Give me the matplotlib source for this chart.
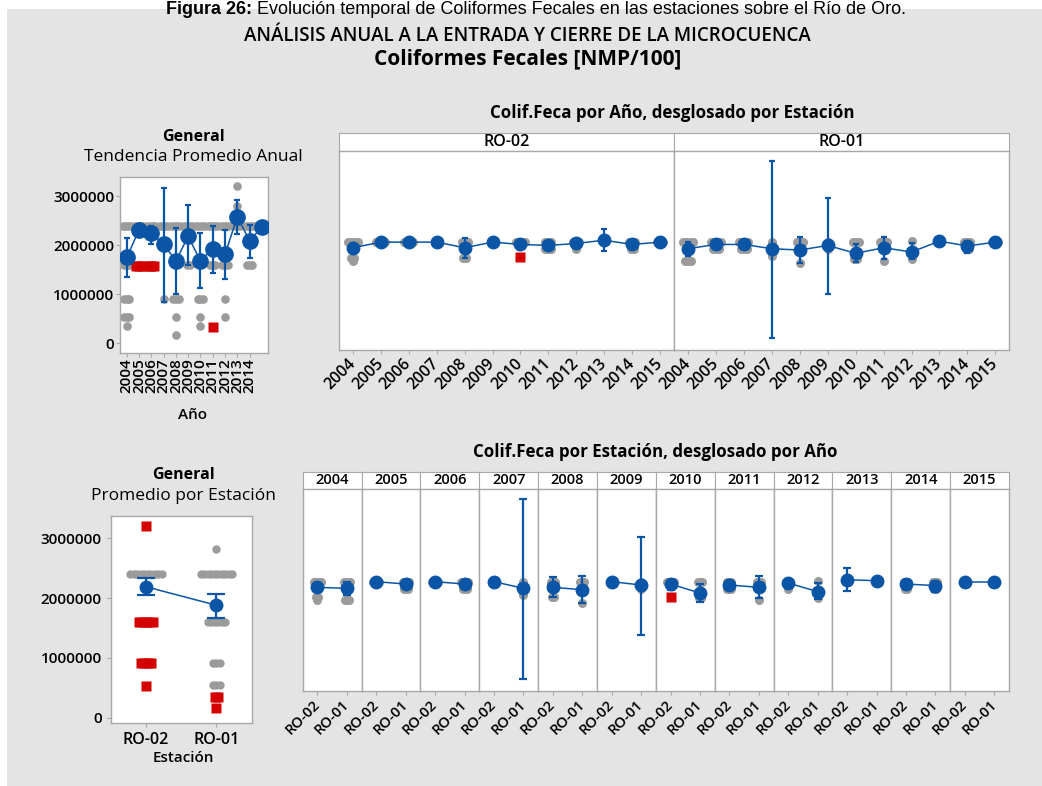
import numpy as np
import matplotlib
matplotlib.use("Agg")
import matplotlib.pyplot as plt
from matplotlib.patches import Rectangle

plt.rcParams['font.family'] = ['Open Sans', 'DejaVu Sans']

# ---- data (values in millions of NMP/100) ----
years = [2004, 2005, 2006, 2007, 2008, 2009, 2010, 2011, 2012, 2013, 2014, 2015]
general_labels = ["2004", "2005", "2006", "2007", "2008", "2009", "2010", "2011", "2012", "2013", "2014"]
stations = ["RO-02", "RO-01"]

# General - tendencia promedio anual
gen_mean = [1.75, 2.31, 2.24, 2.02, 1.68, 2.18, 1.68, 1.93, 1.81, 2.58, 2.09, 2.37]
gen_lo = [1.35, 2.17, 2.03, 0.84, 1.01, 1.59, 1.13, 1.43, 1.30, 2.22, 1.73, np.nan]
gen_hi = [2.14, 2.42, 2.39, 3.17, 2.34, 2.82, 2.24, 2.40, 2.31, 2.92, 2.41, np.nan]
# (year, value, how many overlapping points)
gen_gray = [
    (2004, 2.4, 4), (2004, 1.6, 3), (2004, 0.9, 3), (2004, 0.54, 3), (2004, 0.35, 1),
    (2005, 2.4, 4), (2006, 2.4, 4), (2007, 2.4, 4), (2007, 0.9, 1),
    (2008, 2.4, 4), (2008, 0.9, 3), (2008, 0.54, 1), (2008, 0.17, 1),
    (2009, 2.4, 4), (2009, 1.6, 2),
    (2010, 2.4, 4), (2010, 0.9, 3), (2010, 0.54, 1), (2010, 0.35, 1),
    (2011, 2.4, 4), (2011, 1.6, 3),
    (2012, 2.4, 4), (2012, 1.6, 3), (2012, 0.9, 1), (2012, 0.54, 1),
    (2013, 3.2, 1), (2013, 2.8, 1), (2013, 2.4, 3),
    (2014, 2.4, 4), (2014, 1.6, 3),
    (2015, 2.4, 4)]
gen_red = [(2005, 1.57, 3), (2006, 1.57, 3), (2011, 0.33, 1)]

# General - promedio por estacion
est_mean = [2.19, 1.88]
est_lo = [2.05, 1.67]
est_hi = [2.33, 2.07]
est_gray = [(1, 2.4, 10), (2, 2.82, 1), (2, 2.4, 10), (2, 1.6, 6), (2, 0.92, 3), (2, 0.54, 3)]
est_red = [(1, 3.2, 1), (1, 1.6, 5), (1, 0.92, 4), (1, 0.535, 1), (2, 0.35, 2), (2, 0.16, 1)]

# by station and year
ro02_mean = [2.11, 2.40, 2.40, 2.40, 2.11, 2.40, 2.28, 2.23, 2.33, 2.50, 2.28, 2.40]
ro02_lo = [1.90, np.nan, np.nan, np.nan, 1.60, np.nan, 2.00, np.nan, np.nan, 1.92, np.nan, np.nan]
ro02_hi = [2.33, np.nan, np.nan, np.nan, 2.63, np.nan, 2.50, np.nan, np.nan, 3.09, np.nan, np.nan]
ro01_mean = [2.06, 2.28, 2.28, 2.06, 1.99, 2.23, 1.82, 2.11, 1.89, 2.45, 2.20, 2.40]
ro01_lo = [1.70, np.nan, np.nan, -2.56, 1.31, -0.30, 1.37, 1.55, 1.51, np.nan, 1.86, np.nan]
ro01_hi = [2.40, np.nan, np.nan, 6.61, 2.68, 4.68, 2.28, 2.68, 2.33, np.nan, 2.45, np.nan]
ro02_gray = [
    (2004, 2.4, 4), (2004, 1.6, 2), (2004, 1.45, 1), (2005, 2.4, 4), (2006, 2.4, 4),
    (2007, 2.4, 1), (2008, 2.4, 3), (2008, 1.6, 2), (2009, 2.4, 2), (2010, 2.4, 4),
    (2011, 2.4, 3), (2011, 2.05, 3), (2012, 2.4, 3), (2012, 2.05, 1), (2013, 2.6, 1),
    (2013, 2.4, 1), (2014, 2.4, 3), (2014, 2.05, 2), (2015, 2.4, 3)]
ro02_red = [(2010, 1.63, 1)]
ro01_gray = [
    (2004, 2.4, 4), (2004, 1.45, 3), (2005, 2.4, 4), (2005, 2.05, 3), (2006, 2.4, 4),
    (2006, 2.05, 3), (2007, 2.4, 1), (2007, 1.7, 1), (2008, 2.4, 3), (2008, 1.3, 1),
    (2009, 2.4, 1), (2009, 2.05, 1), (2010, 2.4, 3), (2010, 1.55, 2), (2011, 2.4, 3),
    (2011, 1.45, 1), (2012, 2.45, 1), (2012, 1.55, 1), (2013, 2.4, 2), (2014, 2.4, 3),
    (2014, 2.05, 2), (2015, 2.4, 3)]
ro01_red = []

M = 1e6
W, H = 1042, 786
BLUE = "#0a55a5"
GRAY = "#9b9b9b"
RED = "#d40000"
EDGE = "#a8a8a8"
BG = "#e4e4e4"

fig = plt.figure(figsize=(W / 100, H / 100), dpi=100)
fig.add_artist(Rectangle((7 / W, 0), 1 - 7 / W, 1 - 9 / H, transform=fig.transFigure,
                         facecolor=BG, edgecolor="none", zorder=-10))


def rect(x0, y0, x1, y1):  # pixel box -> figure fraction
    return [x0 / W, 1 - y1 / H, (x1 - x0) / W, (y1 - y0) / H]


def ftext(x, y, s, **kw):
    fig.text(x / W, 1 - y / H, s, ha="center", va="center", **kw)


def style(ax):
    ax.set_facecolor("white")
    for sp in ax.spines.values():
        sp.set_color(EDGE)
        sp.set_linewidth(1.0)
    ax.tick_params(colors=EDGE, labelcolor="black", length=3, width=0.8)


def points(ax, x, val, n, color, marker, ms, step):
    offs = (np.arange(n) - (n - 1) / 2) * step
    ax.plot(x + offs, [val * M] * n, ls="none", marker=marker, ms=ms, color=color, mec="none", zorder=2)


def means(ax, x, mean, lo, hi, ms, cap):
    x = np.asarray(x, dtype=float)
    mean = np.asarray(mean) * M
    lo = np.asarray(lo) * M
    hi = np.asarray(hi) * M
    ok = ~np.isnan(lo)
    ax.errorbar(x[ok], mean[ok], yerr=[mean[ok] - lo[ok], hi[ok] - mean[ok]], fmt="none",
                ecolor=BLUE, elinewidth=1.6, capsize=cap, capthick=1.6, zorder=3)
    ax.plot(x, mean, color=BLUE, lw=1.1, zorder=4)
    ax.plot(x, mean, "o", ms=ms, color=BLUE, mec=BLUE, zorder=5)


def strip(x0, y0, x1, y1, s, size):
    sa = fig.add_axes(rect(x0, y0, x1, y1))
    sa.set_xticks([])
    sa.set_yticks([])
    for sp in sa.spines.values():
        sp.set_color(EDGE)
    sa.text(0.5, 0.5, s, ha="center", va="center", fontsize=size, fontweight="semibold",
            transform=sa.transAxes)


# ---- titles ----
ftext(527, 36, "ANÁLISIS ANUAL A LA ENTRADA Y CIERRE DE LA MICROCUENCA", fontsize=13.5, fontweight="semibold")
ftext(528, 59, "Coliformes Fecales [NMP/100]", fontsize=15, fontweight="bold")

# figure caption above the chart area
r = fig.canvas.get_renderer()
c1 = fig.text(0, 1 - 14 / H, "Figura 26:", fontsize=13, fontweight="bold", family="Liberation Sans",
              va="baseline", zorder=5)
c2 = fig.text(0, 1 - 14 / H, " Evolución temporal de Coliformes Fecales en las estaciones sobre el Río de Oro.",
              fontsize=13, family="Liberation Sans", va="baseline", zorder=5)
w1 = c1.get_window_extent(r).width
w2 = c2.get_window_extent(r).width
start = 536 - (w1 + w2) / 2
c1.set_x(start / W)
c2.set_x((start + w1) / W)

# ---- General: tendencia anual ----
ftext(193, 137, "General", fontsize=11.5, fontweight="bold")
ftext(193, 157, "Tendencia Promedio Anual", fontsize=12.5)
ax = fig.add_axes(rect(120, 177, 268, 353))
style(ax)
for yr, v, n in gen_gray:
    points(ax, years.index(yr), v, n, GRAY, "o", 6.2, 0.22)
for yr, v, n in gen_red:
    points(ax, years.index(yr), v, n, RED, "s", 7, 0.22)
means(ax, range(len(years)), gen_mean, gen_lo, gen_hi, 11, 2.5)
ax.set_xlim(-0.55, 11.5)
ax.set_ylim(-0.2 * M, 3.39 * M)
ax.set_yticks([0, 1 * M, 2 * M, 3 * M])
ax.set_yticklabels(["0", "1000000", "2000000", "3000000"], fontsize=11, fontweight="semibold")
ax.set_xticks(range(len(general_labels)))
ax.set_xticklabels(general_labels, rotation=90, fontsize=11, fontweight="semibold")
ax.tick_params(axis="both", pad=1)
ftext(193, 415, "Año", fontsize=11, fontweight="semibold")

# ---- by station, per year ----
ftext(672, 113, "Colif.Feca por Año, desglosado por Estación", fontsize=12.2, fontweight="bold")
top_data = [(ro02_mean, ro02_lo, ro02_hi, ro02_gray, ro02_red),
            (ro01_mean, ro01_lo, ro01_hi, ro01_gray, ro01_red)]
edges = [339, 674, 1009.3]
for k, st in enumerate(stations):
    mean, lo, hi, gray, red = top_data[k]
    strip(edges[k], 133.3, edges[k + 1], 150.7, st, 11.5)
    ax = fig.add_axes(rect(edges[k], 150.7, edges[k + 1], 350))
    style(ax)
    for yr, v, n in gray:
        points(ax, years.index(yr), v, n, GRAY, "o", 6.5, 0.11)
    for yr, v, n in red:
        points(ax, years.index(yr), v, n, RED, "s", 7, 0.11)
    means(ax, range(len(years)), mean, lo, hi, 9, 2.5)
    ax.set_xlim(-0.5, 11.5)
    ax.set_ylim(-3.17 * M, 7.12 * M)
    ax.set_yticks([])
    ax.set_xticks(range(len(years)))
    ax.set_xticklabels([str(y) for y in years], rotation=45, ha="right", va="center",
                       rotation_mode="anchor", fontsize=11.5, fontweight="semibold")
    ax.tick_params(axis="x", pad=5)

# ---- General: promedio por estacion ----
ftext(183, 475, "General", fontsize=11.5, fontweight="bold")
ftext(183, 496, "Promedio por Estación", fontsize=12.5)
ax = fig.add_axes(rect(110.7, 515.7, 251.7, 722.7))
style(ax)
for p, v, n in est_gray:
    points(ax, p, v, n, GRAY, "o", 6, 0.05)
for p, v, n in est_red:
    points(ax, p, v, n, RED, "s", 7.5, 0.05)
means(ax, [1, 2], est_mean, est_lo, est_hi, 9, 6.5)
ax.set_xlim(0.5, 2.5)
ax.set_ylim(-0.084 * M, 3.378 * M)
ax.set_yticks([0, 1 * M, 2 * M, 3 * M])
ax.set_yticklabels(["0", "1000000", "2000000", "3000000"], fontsize=11, fontweight="semibold")
ax.set_xticks([1, 2])
ax.set_xticklabels(stations, fontsize=11.5, fontweight="semibold")
ftext(183, 758, "Estación", fontsize=11, fontweight="semibold")

# ---- by year, per station ----
ftext(655, 452, "Colif.Feca por Estación, desglosado por Año", fontsize=12.2, fontweight="bold")
pw = (1009 - 302.7) / len(years)
for i, yr in enumerate(years):
    x0 = 302.7 + i * pw
    x1 = x0 + pw
    strip(x0, 471.7, x1, 489.3, str(yr), 10.5)
    ax = fig.add_axes(rect(x0, 489.3, x1, 690.7))
    style(ax)
    for k in range(2):
        mean, lo, hi, gray, red = top_data[k]
        for g_yr, v, n in gray:
            if g_yr == yr:
                points(ax, k + 1, v, n, GRAY, "o", 6.5, 0.07)
        for g_yr, v, n in red:
            if g_yr == yr:
                points(ax, k + 1, v, n, RED, "s", 7, 0.07)
    means(ax, [1, 2], [ro02_mean[i], ro01_mean[i]], [ro02_lo[i], ro01_lo[i]],
          [ro02_hi[i], ro01_hi[i]], 9, 3)
    ax.set_xlim(0.5, 2.5)
    ax.set_ylim(-3.17 * M, 7.12 * M)
    ax.set_yticks([])
    ax.set_xticks([1, 2])
    ax.set_xticklabels(stations, rotation=45, ha="right", va="center",
                       rotation_mode="anchor", fontsize=10.5, fontweight="semibold")
    ax.tick_params(axis="x", pad=5)

fig.savefig("out.png", dpi=100)
